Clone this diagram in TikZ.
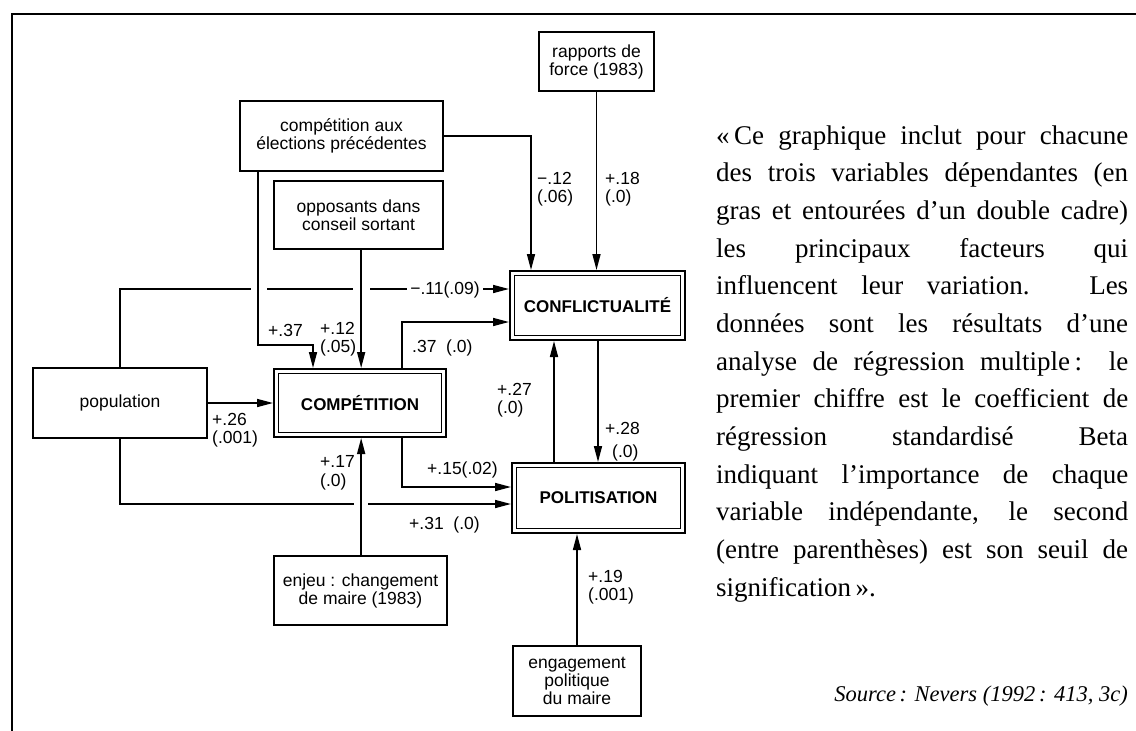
\documentclass[tikz,border=0pt]{standalone}
\usepackage{fontspec}
\setmainfont{Liberation Serif}
\newfontfamily\diagfont{Liberation Sans}
\usetikzlibrary{arrows.meta,calc}
\begin{document}
\begin{tikzpicture}[x=1pt,y=-1pt,
  vbox/.style={draw, line width=1.7pt, inner sep=0pt, align=center,
    font=\diagfont\fontsize{17.5}{18}\selectfont},
  dbox/.style={draw, line width=2pt, inner sep=0pt, align=center,
    font=\diagfont\bfseries\fontsize{17}{18}\selectfont},
  inner/.style={line width=1.3pt},
  arr/.style={line width=1.6pt, -{Triangle[length=16pt,width=8pt]}},
  lab/.style={font=\diagfont\fontsize{17.5}{18.5}\selectfont, inner sep=0pt, align=left},
  gap/.style={fill=white, draw=none}]
\useasboundingbox (0,0) rectangle (1136,731);
% frame
\draw[line width=2.5pt] (12,731) -- (12,14) -- (1136,14);

% boxes
\node[vbox, minimum width=115pt, minimum height=59pt] (rap) at (596.5,61.5) {rapports de\\force (1983)};
\node[vbox, minimum width=203pt, minimum height=70pt] (cae) at (341.5,136) {compétition aux\\élections précédentes};
\node[vbox, minimum width=169pt, minimum height=68pt] (opp) at (358.5,215) {opposants dans\\conseil sortant};
\node[vbox, minimum width=174pt, minimum height=70pt] (pop) at (120,403) {population};
\node[dbox, minimum width=172pt, minimum height=68pt] (comp) at (360,403) {COMPÉTITION};
\node[dbox, minimum width=175pt, minimum height=69pt] (conf) at (597.5,305.5) {CONFLICTUALITÉ};
\node[dbox, minimum width=173pt, minimum height=70pt] (pol) at (598.5,498) {POLITISATION};
\node[vbox, minimum width=173pt, minimum height=69pt] (enj) at (360.5,590.5) {enjeu : changement\\de maire (1983)};
\node[vbox, minimum width=128pt, minimum height=70pt] (eng) at (577,681) {engagement\\politique\\du maire};

\foreach \n in {comp,conf,pol}{
  \draw[inner] ([xshift=5.5pt,yshift=-5.5pt]\n.north west) rectangle ([xshift=-5.5pt,yshift=5.5pt]\n.south east);
}

% long horizontal connectors first (with gaps)
\draw[arr] (pop.north) |- ([yshift=-19pt]conf.north west);
\fill[gap] (251,285) rectangle (267,295);
\fill[gap] (353,285) rectangle (370,295);
\node[lab, fill=white, inner xsep=3pt, inner ysep=1pt] (l11) at (445,290) {−.11(.09)};

\draw[arr] (pop.south) |- ([yshift=-42pt]pol.north west);
\fill[gap] (354,500) rectangle (368,510);

% other connectors
\draw[arr] (rap.south) -- (rap.south |- conf.north);
\draw[arr] (cae.east) -| ([xshift=22pt]conf.north west);

\coordinate (a37) at ([xshift=19pt]cae.south west);
\coordinate (b37) at ([xshift=40pt]comp.north west);
\draw[arr] (a37) |- ([yshift=23pt]b37) -- (b37);

\coordinate (a12) at ([xshift=88pt]opp.south west);
\draw[arr] (a12) -- (a12 |- comp.north);

\coordinate (c37) at ([xshift=129pt]comp.north west);
\draw[arr] (c37) |- ([yshift=-52pt]conf.north west);

\draw[arr] (pop) -- (comp);

\coordinate (c15) at ([xshift=129pt]comp.south west);
\draw[arr] (c15) |- ([yshift=-25pt]pol.north west);

\coordinate (e17) at ([xshift=88pt]enj.north west);
\draw[arr] (e17) -- (e17 |- comp.south);

\coordinate (p27) at ([xshift=43pt]pol.north west);
\draw[arr] (p27) -- (p27 |- conf.south);

\coordinate (c28) at ([xshift=89pt]conf.south west);
\draw[arr] (c28) -- (c28 |- pol.north);

\draw[arr] (eng.north) -- (eng.north |- pol.south);

% labels
\node[lab, anchor=west] (l18) at (605,189) {+.18\\(.0)};
\node[lab, anchor=west] (l12a) at (537,189) {−.12\\(.06)};
\node[lab, anchor=west] (l37) at (268,330) {+.37};
\node[lab, anchor=west] (l12) at (320,339) {+.12\\(.05)};
\node[lab, anchor=west] (l37b) at (412,348) {.37\ \ (.0)};
\node[lab, anchor=west] (l26) at (212,430) {+.26\\(.001)};
\node[lab, anchor=west] (l17) at (320,473) {+.17\\(.0)};
\node[lab, anchor=west] (l15) at (427,470) {+.15(.02)};
\node[lab, anchor=west] (l31) at (409,525) {+.31\ \ (.0)};
\node[lab, anchor=west] (l27) at (497,400) {+.27\\(.0)};
\node[lab, anchor=west] (l28) at (605,428) {+.28};
\node[lab, anchor=west] (l28b) at (612,453) {(.0)};
\node[lab, anchor=west] (l19) at (588,587) {+.19\\(.001)};

% explanatory text
\node[anchor=base west, inner sep=0pt] (txt) at (716,144) {\parbox[t]{412pt}{%
\fontsize{27}{37.67}\selectfont\parindent=0pt\tolerance=10000\hbadness=10000\hyphenpenalty=10000
«\,Ce graphique inclut pour chacune\linebreak
des trois variables dépendantes (en\linebreak
gras et entourées d’un double cadre)\linebreak
les principaux facteurs qui\linebreak
influencent leur variation. Les\linebreak
données sont les résultats d’une\linebreak
analyse de régression multiple\,: le\linebreak
premier chiffre est le coefficient de\linebreak
régression standardisé Beta\linebreak
indiquant l’importance de chaque\linebreak
variable indépendante, le second\linebreak
(entre parenthèses) est son seuil de\linebreak
signification\,».\par}};
\node[anchor=base east, inner sep=0pt] (src) at (1128,701) {\fontsize{22.5}{28}\selectfont\itshape Source\,: Nevers (1992\,: 413, 3c)};
\end{tikzpicture}
\end{document}
